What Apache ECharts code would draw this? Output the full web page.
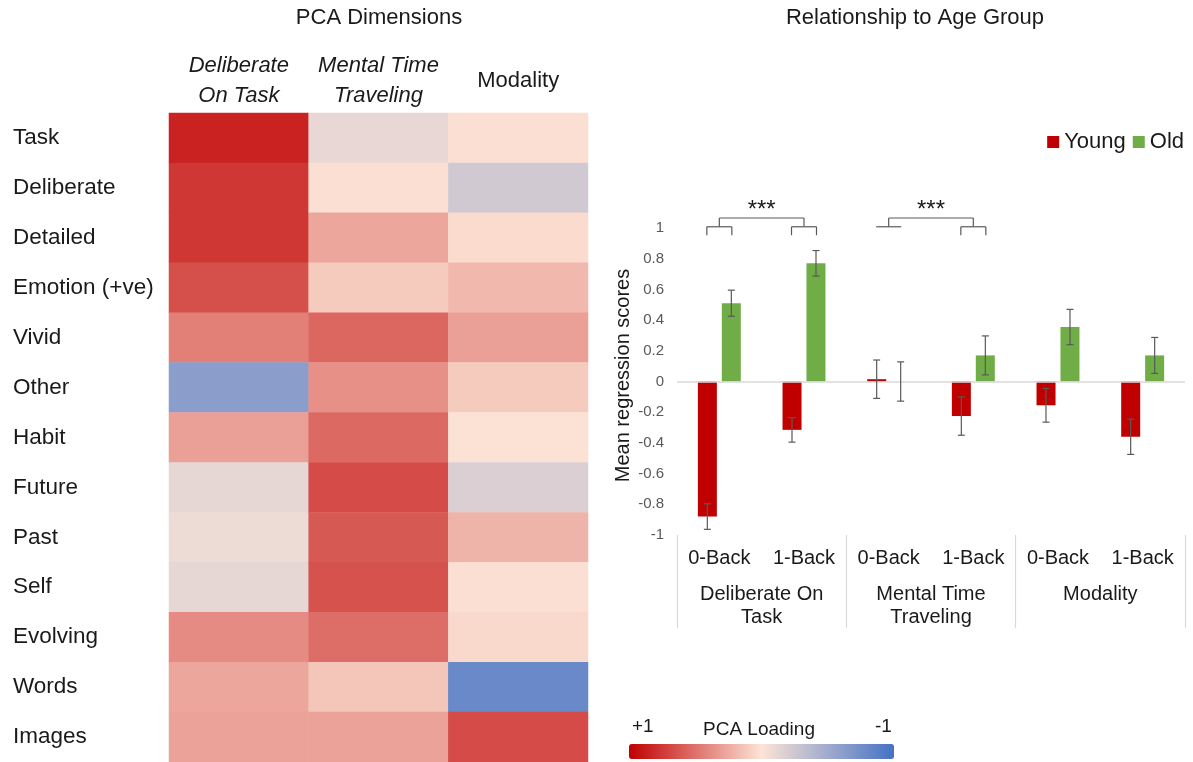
<!DOCTYPE html>
<html><head><meta charset="utf-8">
<script src="https://cdn.jsdelivr.net/npm/echarts@6/dist/echarts.min.js"></script>
<style>html,body{margin:0;padding:0;background:#fff}#c{width:1193px;height:762px}</style>
</head><body><div id="c"></div>
<script>
// ---- Heatmap data (PCA loadings) ----
const rows = ['Task','Deliberate','Detailed','Emotion (+ve)','Vivid','Other','Habit','Future','Past','Self','Evolving','Words','Images'];
const dims = ['Deliberate\nOn Task','Mental Time\nTraveling','Modality'];
const loadDeliberate = [0.85,0.76,0.76,0.65,0.44,-0.62,0.30,-0.12,-0.08,-0.12,0.39,0.27,0.29];
const loadMental     = [-0.11,0.02,0.27,0.11,0.55,0.37,0.54,0.67,0.61,0.64,0.52,0.13,0.29];
const loadModality   = [0.02,-0.24,0.04,0.19,0.30,0.11,0.01,-0.18,0.21,0.02,0.05,-0.80,0.67];

// ---- Bar chart data ----
const tasks  = ['0-Back','1-Back','0-Back','1-Back','0-Back','1-Back'];
const groups = ['Deliberate On\nTask','Mental Time\nTraveling','Modality'];
const young    = [-0.88,-0.315,0.015,-0.225,-0.155,-0.36];
const youngErr = [0.083,0.08,0.125,0.125,0.11,0.115];
const old      = [0.51,0.77,0,0.17,0.355,0.17];
const oldErr   = [0.085,0.083,0.128,0.127,0.115,0.117];
const sigPairs = [[0,1,1],[2,3,0]];   // [left category, right category, left bracket has drops]
const sigLabels = ['***','***'];
const colorbarLabels = ['+1','PCA Loading','-1'];

const FONT = 'Liberation Sans';
const loads = [loadDeliberate, loadMental, loadModality];
const heatData = [];
loads.forEach((col, x) => col.forEach((v, y) => heatData.push([x, y, v])));

function errRender(off) {
  return function (params, api) {
    const lo = api.coord([api.value(0), api.value(1)]);
    const hi = api.coord([api.value(0), api.value(2)]);
    const x = lo[0] + off, w = 3.5;
    const st = { stroke: '#595959', lineWidth: 1.2 };
    return { type: 'group', children: [
      { type: 'line', shape: { x1: x, y1: lo[1], x2: x, y2: hi[1] }, style: st },
      { type: 'line', shape: { x1: x - w, y1: lo[1], x2: x + w, y2: lo[1] }, style: st },
      { type: 'line', shape: { x1: x - w, y1: hi[1], x2: x + w, y2: hi[1] }, style: st }
    ]};
  };
}

function bracketRender(params, api) {
  const a = api.value(0), b = api.value(1), leftDrops = api.value(2);
  const base = 1.008, drop = 0.953, top = 1.065, txt = 1.115;
  const st = { stroke: '#595959', lineWidth: 1.2 };
  const off = 12.5;
  const pa = api.coord([a, base]), pb = api.coord([b, base]);
  const yDrop = api.coord([a, drop])[1], yTop = api.coord([a, top])[1], yTxt = api.coord([a, txt])[1];
  const ch = [];
  function br(p, drops) {
    ch.push({ type: 'line', shape: { x1: p[0] - off, y1: p[1], x2: p[0] + off, y2: p[1] }, style: st });
    if (drops) {
      ch.push({ type: 'line', shape: { x1: p[0] - off, y1: p[1], x2: p[0] - off, y2: yDrop }, style: st });
      ch.push({ type: 'line', shape: { x1: p[0] + off, y1: p[1], x2: p[0] + off, y2: yDrop }, style: st });
    }
    ch.push({ type: 'line', shape: { x1: p[0], y1: p[1], x2: p[0], y2: yTop }, style: st });
  }
  br(pa, leftDrops);
  br(pb, 1);
  ch.push({ type: 'line', shape: { x1: pa[0], y1: yTop, x2: pb[0], y2: yTop }, style: st });
  ch.push({ type: 'text', style: { text: sigLabels[params.dataIndex], x: (pa[0] + pb[0]) / 2, y: yTxt,
    align: 'center', verticalAlign: 'middle', fontSize: 24, fontFamily: FONT, fill: '#1a1a1a' } });
  return { type: 'group', children: ch };
}

const chart = echarts.init(document.getElementById('c'));
chart.setOption({
  animation: false,
  backgroundColor: '#fff',
  textStyle: { fontFamily: FONT },
  title: [
    { text: 'PCA Dimensions', left: 379, top: 7, textAlign: 'center', padding: 0,
      textStyle: { fontSize: 22, fontWeight: 'normal', color: '#1a1a1a', fontFamily: FONT } },
    { text: 'Relationship to Age Group', left: 915, top: 7, textAlign: 'center', padding: 0,
      textStyle: { fontSize: 22, fontWeight: 'normal', color: '#1a1a1a', fontFamily: FONT } }
  ],
  legend: {
    data: ['Young', 'Old'], right: 9, top: 131, icon: 'rect', itemWidth: 12, itemHeight: 12, itemGap: 7,
    padding: 0, textStyle: { fontSize: 22, color: '#1a1a1a', fontFamily: FONT }
  },
  grid: [
    { left: 169, top: 113, width: 419, height: 650 },
    { left: 677, top: 228, width: 508, height: 307 }
  ],
  xAxis: [
    { gridIndex: 0, type: 'category', position: 'top', data: dims,
      axisLine: { show: false }, axisTick: { show: false }, splitLine: { show: false },
      axisLabel: { margin: 32, interval: 0, verticalAlign: 'middle', lineHeight: 30, color: '#1a1a1a', fontSize: 22,
        formatter: function (v, i) {
          if (i < 2) return v.split('\n').map(s => '{i|' + s + '}').join('\n');
          return '{n|' + v + '}';
        },
        rich: { i: { fontStyle: 'italic', fontSize: 22, lineHeight: 30, color: '#1a1a1a', fontFamily: FONT },
                n: { fontSize: 22, lineHeight: 30, color: '#1a1a1a', fontFamily: FONT } } } },
    { gridIndex: 1, type: 'category', data: tasks,
      axisLine: { show: false }, axisTick: { show: false },
      axisLabel: { margin: 13, fontSize: 20, color: '#1a1a1a', interval: 0 } },
    { gridIndex: 1, type: 'category', data: groups, position: 'bottom',
      axisLine: { show: false },
      axisTick: { show: true, length: 93, lineStyle: { color: '#d9d9d9', width: 1.2 } },
      axisLabel: { margin: 48, fontSize: 20, lineHeight: 23, color: '#1a1a1a', interval: 0 } }
  ],
  yAxis: [
    { gridIndex: 0, type: 'category', data: rows, inverse: true,
      axisLine: { show: false }, axisTick: { show: false }, splitLine: { show: false },
      axisLabel: { align: 'left', margin: 156, fontSize: 22.5, color: '#1a1a1a', interval: 0 } },
    { gridIndex: 1, type: 'value', min: -1, max: 1, interval: 0.2,
      axisLine: { show: false }, axisTick: { show: false }, splitLine: { show: false },
      axisLabel: { margin: 13, fontSize: 15, color: '#595959' },
      name: 'Mean regression scores', nameLocation: 'middle', nameGap: 44,
      nameTextStyle: { fontSize: 20, color: '#1a1a1a', fontFamily: FONT, padding: [0, 0, 0, 12] } }
  ],
  visualMap: {
    type: 'continuous', seriesIndex: 0, min: -1, max: 1, dimension: 2,
    orient: 'horizontal', inverse: true, calculable: false, left: 629, top: 744,
    itemWidth: 15, itemHeight: 265, padding: 0, text: null, showLabel: false,
    inRange: { color: ['#4472c4', '#fce4d6', '#c00000'] }
  },
  graphic: [
    { type: 'text', left: 632, top: 717, style: { text: colorbarLabels[0], fontSize: 19, fill: '#1a1a1a', fontFamily: FONT } },
    { type: 'text', left: 703, top: 720, style: { text: colorbarLabels[1], fontSize: 19, fill: '#1a1a1a', fontFamily: FONT } },
    { type: 'text', left: 875, top: 717, style: { text: colorbarLabels[2], fontSize: 19, fill: '#1a1a1a', fontFamily: FONT } }
  ],
  series: [
    { type: 'heatmap', xAxisIndex: 0, yAxisIndex: 0, data: heatData, itemStyle: { borderWidth: 0 } },
    { name: 'Young', type: 'bar', xAxisIndex: 1, yAxisIndex: 1, data: young, barWidth: 19, barGap: '26%',
      itemStyle: { color: '#c00000' },
      markLine: { silent: true, symbol: ['none', 'none'], label: { show: false },
        lineStyle: { color: '#d9d9d9', type: 'solid', width: 1.5 }, data: [{ yAxis: 0 }] } },
    { name: 'Old', type: 'bar', xAxisIndex: 1, yAxisIndex: 1, data: old, barWidth: 19, barGap: '26%',
      itemStyle: { color: '#70ad47' } },
    { type: 'custom', xAxisIndex: 1, yAxisIndex: 1, renderItem: errRender(-12), z: 5,
      data: young.map((v, i) => [i, v - youngErr[i], v + youngErr[i]]) },
    { type: 'custom', xAxisIndex: 1, yAxisIndex: 1, renderItem: errRender(12), z: 5,
      data: old.map((v, i) => [i, v - oldErr[i], v + oldErr[i]]) },
    { type: 'custom', xAxisIndex: 1, yAxisIndex: 1, renderItem: bracketRender, z: 5, clip: false,
      data: sigPairs }
  ]
});
</script>
</body></html>
